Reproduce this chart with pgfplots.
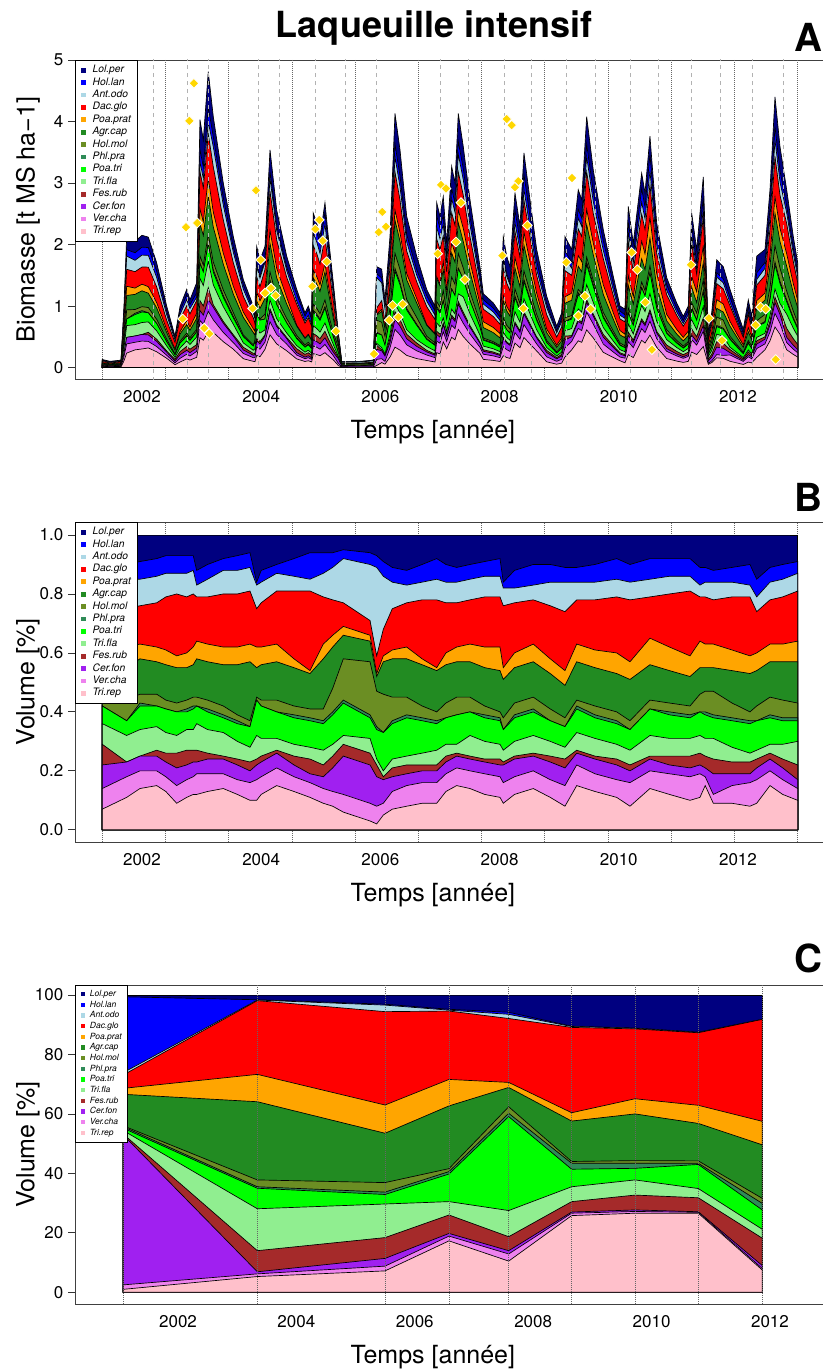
\documentclass[border=0pt]{standalone}
\usepackage{fontspec}
\setmainfont{TeX Gyre Heros}
\usepackage{pgfplots}
\pgfplotsset{compat=1.18}
\usepackage{pgfplotstable}

\definecolor{cLol}{HTML}{000080}
\definecolor{cHol}{HTML}{0000FF}
\definecolor{cAnt}{HTML}{ADD8E6}
\definecolor{cDac}{HTML}{FF0000}
\definecolor{cPoap}{HTML}{FFA500}
\definecolor{cAgr}{HTML}{228B22}
\definecolor{cHolm}{HTML}{6B8E23}
\definecolor{cPhl}{HTML}{2E8B57}
\definecolor{cPoat}{HTML}{00FF00}
\definecolor{cTrif}{HTML}{90EE90}
\definecolor{cFes}{HTML}{A52A2A}
\definecolor{cCer}{HTML}{A020F0}
\definecolor{cVer}{HTML}{EE82EE}
\definecolor{cTrir}{HTML}{FFC0CB}
\definecolor{gold}{HTML}{FFD700}

% Panel A: total biomass and cumulative shares (%) of species, bottom (Tri.rep) to top
\pgfplotstableread{
yr tot c1 c2 c3 c4 c5 c6 c7 c8 c9 c10 c11 c12 c13
2001.334 0.13 7 14 22 29 36 42 42 46 54 61 75 84 90
2001.463 0.10 7 14 22 29 36 42 42 46 54 61 75 84 90
2001.648 0.12 7 14 22 29 36 42 42 46 54 61 75 84 90
2001.698 1.00 11 18 23 23 32 37 37 44 55 62 75 85 90
2001.743 2.13 11 18 23 23 32 37 37 44 55 62 75 85 90
2001.883 2.05 14 20 25 25 34 42 43 46 58 63 76 85 91
2002.000 2.15 14 20 25 25 34 42 43 46 58 63 76 85 91
2002.106 2.12 15 20 25 27 35 42 42 46 57 62 77 86 92
2002.247 1.70 15 20 25 27 35 42 42 46 57 62 77 86 92
2002.414 1.00 15 20 25 27 35 42 42 46 57 62 77 86 92
2002.554 0.51 9 15 21 26 32 40 40 43 55 59 80 87 93
2002.638 0.99 9 15 21 26 32 40 40 43 55 59 80 87 93
2002.750 1.27 11 17 22 27 34 40 41 44 55 60 79 87 93
2002.805 1.10 11 17 22 27 34 40 41 44 55 60 79 87 93
2002.918 1.38 12 19 23 27 36 42 42 45 58 64 79 83 88
2002.973 4.03 12 19 23 27 36 42 42 45 58 64 79 83 88
2003.029 3.70 12 19 23 27 36 42 42 45 58 64 79 83 88
2003.112 4.81 12 19 23 27 36 42 42 45 58 64 79 83 88
2003.196 4.08 14 19 24 25 33 38 39 42 56 62 80 88 92
2003.364 3.00 14 19 24 25 33 38 39 42 56 62 80 88 92
2003.532 2.13 14 19 24 25 33 38 39 42 56 62 80 88 92
2003.700 1.43 10 16 20 23 28 35 35 37 57 63 81 89 94
2003.867 1.00 10 16 20 23 28 35 35 37 57 63 81 89 94
2003.896 0.95 10 17 22 24 32 44 44 45 55 62 75 83 84
2003.924 1.97 10 17 22 24 32 44 44 45 55 62 75 83 84
2003.980 1.75 10 17 22 24 32 44 44 45 55 62 75 83 84
2004.064 1.97 15 21 26 27 31 40 40 44 57 63 81 87 90
2004.148 3.54 15 21 26 27 31 40 40 44 57 63 81 87 90
2004.260 2.56 15 21 26 27 31 40 40 44 57 63 81 87 90
2004.428 1.81 15 21 26 27 31 40 40 44 57 63 81 87 90
2004.596 1.27 11 16 19 24 28 37 38 41 53 54 81 85 94
2004.735 0.89 11 16 19 24 28 37 38 41 53 54 81 85 94
2004.790 1.00 11 16 19 24 28 37 38 41 53 54 81 85 94
2004.847 0.83 11 16 19 24 28 37 38 41 53 54 81 85 94
2004.874 2.51 9 14 18 22 27 36 37 41 58 63 79 87 94
2004.931 2.35 9 14 18 22 27 36 37 41 58 63 79 87 94
2004.987 2.13 9 14 18 22 27 36 37 41 58 63 79 87 94
2005.070 2.68 9 14 18 22 27 36 37 41 58 63 79 87 94
2005.126 2.13 9 14 18 22 27 36 37 41 58 63 79 87 94
2005.210 1.38 9 14 18 22 27 36 37 41 58 63 79 87 94
2005.294 0.57 6 12 25 29 32 43 44 58 66 69 77 92 95
2005.351 0.10 6 12 25 29 32 43 44 58 66 69 77 92 95
2005.658 0.10 3 9 22 26 31 38 39 57 64 66 71 90 94
2005.881 0.12 3 9 22 26 31 38 39 57 64 66 71 90 94
2005.938 1.64 2 8 18 22 24 34 35 47 52 53 59 89 93
2006.022 1.60 5 9 17 18 20 33 33 46 57 59 68 86 91
2006.077 1.10 5 9 17 18 20 33 33 46 57 59 68 86 91
2006.161 2.13 8 15 19 22 25 38 39 45 58 62 77 83 88
2006.245 4.13 8 15 19 22 25 38 39 45 58 62 77 83 88
2006.329 3.54 8 15 19 22 25 38 39 45 58 62 77 83 88
2006.441 2.46 8 15 19 22 25 38 39 45 58 62 77 83 88
2006.609 1.81 8 15 19 22 25 38 39 45 58 62 77 83 88
2006.777 1.27 9 16 20 22 27 36 37 40 54 55 78 85 92
2006.916 1.00 9 16 20 22 27 36 37 40 54 55 78 85 92
2006.945 2.68 9 16 20 22 27 36 37 40 54 55 78 85 92
2007.000 2.46 9 16 20 22 27 36 37 40 54 55 78 85 92
2007.055 2.78 15 21 25 26 29 39 39 45 57 62 77 84 89
2007.112 2.02 15 21 25 26 29 39 39 45 57 62 77 84 89
2007.196 3.27 15 21 25 26 29 39 39 45 57 62 77 84 89
2007.252 3.00 15 21 25 26 29 39 39 45 57 62 77 84 89
2007.307 4.13 15 21 25 26 29 39 39 45 57 62 77 84 89
2007.391 3.59 14 20 24 25 32 40 40 45 57 63 78 85 90
2007.503 2.73 14 20 24 25 32 40 40 45 57 63 78 85 90
2007.671 1.64 14 20 24 25 32 40 40 45 57 63 78 85 90
2007.727 1.20 11 18 22 24 29 37 38 40 54 62 79 86 92
2007.894 1.05 11 18 22 24 29 37 38 40 54 62 79 86 92
2008.007 0.89 11 18 22 24 29 37 38 40 54 62 79 86 92
2008.062 2.13 9 16 22 23 27 34 34 38 51 55 76 82 84
2008.119 1.81 9 16 22 23 27 34 34 38 51 55 76 82 84
2008.174 1.64 9 16 22 23 27 34 34 38 51 55 76 82 84
2008.258 2.84 14 20 25 26 32 40 41 45 57 63 78 83 90
2008.342 2.30 14 20 25 26 32 40 41 45 57 63 78 83 90
2008.409 3.49 14 20 25 26 32 40 41 45 57 63 78 83 90
2008.510 2.73 14 20 25 26 32 40 41 45 57 63 78 83 90
2008.622 1.92 14 20 25 26 32 40 41 45 57 63 78 83 90
2008.790 1.16 8 15 21 24 28 35 35 38 49 54 74 84 89
2008.958 0.67 8 15 21 24 28 35 35 38 49 54 74 84 89
2009.042 0.89 8 15 21 24 28 35 35 38 49 54 74 84 89
2009.097 2.13 8 15 21 24 28 35 35 38 49 54 74 84 89
2009.210 1.92 15 22 26 27 33 41 42 44 57 63 78 84 89
2009.320 2.89 15 22 26 27 33 41 42 44 57 63 78 84 89
2009.378 2.73 15 22 26 27 33 41 42 44 57 63 78 84 89
2009.461 4.08 15 22 26 27 33 41 42 44 57 63 78 84 89
2009.572 3.21 15 22 26 27 33 41 42 44 57 63 78 84 89
2009.740 2.24 11 17 22 24 29 36 37 40 53 60 79 85 92
2009.908 1.48 11 17 22 24 29 36 37 40 53 60 79 85 92
2010.020 1.00 11 17 22 24 29 36 37 40 53 60 79 85 92
2010.104 0.95 8 16 20 22 27 34 34 37 51 57 78 84 90
2010.159 2.62 8 16 20 22 27 34 34 37 51 57 78 84 90
2010.243 2.02 8 16 20 22 27 34 34 37 51 57 78 84 90
2010.384 3.16 14 20 24 25 32 41 41 44 56 65 79 85 92
2010.440 2.84 14 20 24 25 32 41 41 44 56 65 79 85 92
2010.523 3.76 14 20 24 25 32 41 41 44 56 65 79 85 92
2010.636 2.35 14 20 24 25 32 41 41 44 56 65 79 85 92
2010.804 1.46 10 18 21 25 31 38 39 42 52 59 81 86 92
2010.971 1.05 10 18 21 25 31 38 39 42 52 59 81 86 92
2011.082 0.83 10 18 21 25 31 38 39 42 52 59 81 86 92
2011.166 1.00 10 18 21 25 31 38 39 42 52 59 81 86 92
2011.223 2.51 10 18 21 25 31 38 39 42 52 59 81 86 92
2011.307 1.92 11 19 22 26 32 40 40 46 55 64 79 83 89
2011.418 3.10 11 19 22 26 32 40 40 46 55 64 79 83 89
2011.502 0.57 9 12 19 24 31 38 39 47 55 63 78 84 88
2011.559 0.89 9 12 19 24 31 38 39 47 55 63 78 84 88
2011.643 1.75 9 12 19 24 31 38 39 47 55 63 78 84 88
2011.753 1.64 9 12 19 24 31 38 39 47 55 63 78 84 88
2011.866 1.27 8 16 19 23 26 36 37 40 53 59 79 83 90
2011.978 0.94 8 16 19 23 26 36 37 40 53 59 79 83 90
2012.089 0.62 8 16 19 23 26 36 37 40 53 59 79 83 90
2012.173 1.10 8 16 19 23 26 36 37 40 53 59 79 83 90
2012.230 0.83 9 17 21 24 27 37 37 42 54 60 74 79 85
2012.314 1.81 9 17 21 24 27 37 37 42 54 60 74 79 85
2012.453 1.92 15 20 24 26 29 38 39 45 57 63 78 84 89
2012.537 2.89 15 20 24 26 29 38 39 45 57 63 78 84 89
2012.621 4.40 15 20 24 26 29 38 39 45 57 63 78 84 89
2012.705 3.59 15 20 24 26 29 38 39 45 57 63 78 84 89
2012.817 2.89 10 14 17 22 30 37 38 43 57 64 81 87 91
2012.928 2.13 10 14 17 22 30 37 38 43 57 64 81 87 91
2013.002 1.70 10 14 17 22 30 37 38 43 57 64 81 87 91
}\tabA

% Panel B: cumulative shares (%)
\pgfplotstableread{
yr c1 c2 c3 c4 c5 c6 c7 c8 c9 c10 c11 c12 c13 top
2001.334 7 14 22 29 36 42 42 46 54 61 75 84 90 100
2001.743 11 18 23 23 32 37 37 44 55 62 75 85 90 100
2001.966 14 20 25 25 34 42 43 46 58 63 76 85 91 100
2002.247 15 20 25 27 35 42 42 46 57 62 77 86 92 100
2002.400 13 18 23 26 33 41 41 44 56 61 79 87 93 100
2002.582 9 15 21 26 32 40 40 43 55 59 80 87 93 100
2002.750 11 17 22 27 34 40 41 44 55 60 79 87 93 100
2002.860 12 18 23 27 34 41 42 45 56 62 80 88 93 100
2002.918 12 19 23 27 36 42 42 45 58 64 79 83 88 100
2003.100 13 19 24 26 34 40 41 44 57 63 79 85 90 100
2003.364 14 19 24 25 33 38 39 42 56 62 80 88 92 100
2003.600 12 17 22 24 30 36 37 39 56 62 80 88 93 100
2003.812 10 16 20 23 28 35 35 37 57 63 81 89 94 100
2003.924 10 17 22 24 32 44 44 45 55 62 75 83 84 100
2004.000 12 18 23 25 31 42 42 44 56 62 77 84 88 100
2004.260 15 21 26 27 31 40 40 44 57 63 81 87 90 100
2004.550 13 18 22 25 29 38 39 42 55 58 81 86 92 100
2004.819 11 16 19 24 28 37 38 41 53 54 81 85 94 100
2005.042 9 14 18 22 27 36 37 41 58 63 79 87 94 100
2005.200 8 13 21 25 29 39 40 48 62 66 78 89 94 100
2005.378 6 12 25 29 32 43 44 58 66 69 77 92 95 100
2005.826 3 9 22 26 31 38 39 57 64 66 71 90 94 100
2005.938 2 8 18 22 24 34 35 47 52 53 59 89 93 100
2006.049 5 9 17 18 20 33 33 46 57 59 68 86 91 100
2006.200 7 13 18 21 24 36 37 45 58 61 75 84 89 100
2006.441 8 15 19 22 25 38 39 45 58 62 77 83 88 100
2006.700 9 16 20 22 26 37 38 42 56 58 78 84 90 100
2006.945 9 16 20 22 27 36 37 40 54 55 78 85 92 100
2007.100 13 19 23 25 29 38 38 43 56 60 77 84 90 100
2007.280 15 21 25 26 29 39 39 45 57 62 77 84 89 100
2007.503 14 20 24 25 32 40 40 45 57 63 78 85 90 100
2007.750 12 19 23 24 30 38 39 42 55 62 79 86 91 100
2008.007 11 18 22 24 29 37 38 40 54 62 79 86 92 100
2008.062 9 16 22 23 27 34 34 38 51 55 76 82 84 100
2008.250 12 18 24 25 30 38 39 43 55 60 77 82 88 100
2008.565 14 20 25 26 32 40 41 45 57 63 78 83 90 100
2008.850 11 17 23 25 30 37 37 41 53 58 76 84 90 100
2009.097 8 15 21 24 28 35 35 38 49 54 74 84 89 100
2009.294 15 22 26 27 33 41 42 44 57 63 78 84 89 100
2009.600 13 19 24 25 31 38 39 42 55 61 78 84 90 100
2009.965 11 17 22 24 29 36 37 40 53 60 79 85 92 100
2010.188 8 16 20 22 27 34 34 37 51 57 78 84 90 100
2010.523 14 20 24 25 32 41 41 44 56 65 79 85 92 100
2010.850 12 19 22 25 31 39 40 43 54 62 80 86 92 100
2011.195 10 18 21 25 31 38 39 42 52 59 81 86 92 100
2011.362 11 19 22 26 32 40 40 46 55 64 79 83 89 100
2011.450 15 18 21 25 31 39 40 47 55 63 79 84 89 100
2011.586 9 12 19 24 31 38 39 47 55 63 78 84 88 100
2011.900 9 15 19 23 28 37 38 43 54 61 79 84 89 100
2012.201 8 16 19 23 26 36 37 40 53 59 79 83 90 100
2012.314 9 17 21 24 27 37 37 42 54 60 74 79 85 100
2012.537 15 20 24 26 29 38 39 45 57 63 78 84 89 100
2012.750 12 17 21 24 29 37 38 44 57 63 79 85 90 100
2013.002 10 14 17 22 30 37 38 43 57 64 81 87 91 100
}\tabB

% Panel C: cumulative shares (%) at the survey dates
\pgfplotstableread{
yr c1 c2 c3 c4 c5 c6 c7 c8 c9 c10 c11 c12 c13 top
2001.076 1.0 2.5 52.9 53.2 54.4 55.2 55.7 56.0 66.6 68.6 73.1 73.9 99.4 100
2003.340 5.3 6.2 6.9 14.0 28.1 35.0 35.5 37.8 64.1 73.3 98.1 98.3 98.4 100
2005.497 7.2 8.8 11.4 18.4 29.7 32.9 33.7 36.9 53.5 63.0 94.4 96.6 96.9 100
2006.578 17.3 18.9 19.8 26.0 30.5 39.8 40.6 41.6 62.7 71.6 94.6 94.9 95.2 100
2007.586 10.5 12.9 14.0 18.7 27.5 59.1 60.2 62.4 68.9 70.6 92.1 93.5 94.2 100
2008.650 25.8 26.6 27.0 30.5 35.5 41.4 43.4 44.0 57.6 60.4 89.1 89.4 89.5 100
2009.720 26.6 27.2 27.7 32.7 37.8 41.7 43.4 44.3 60.0 65.1 88.6 88.8 88.9 100
2010.789 26.6 26.9 27.1 31.8 34.9 43.0 43.4 44.2 56.8 62.9 87.3 87.4 87.5 100
2011.870 7.5 8.0 9.0 18.2 21.2 27.7 29.9 31.6 49.6 57.5 91.8 91.8 91.8 100
}\tabC

\tikzset{stk/.style={fill=#1, draw=black, line width=0.5pt}}

\newcommand{\lblfont}{\fontsize{18.75}{21}\selectfont}

\pgfplotsset{
  panel/.style={
    scale only axis, width=566.25pt, height=239.25pt, anchor=north west,
    axis line style={black!75, line width=0.6pt},
    xtick={2002,2004,2006,2008,2010,2012},
    xtick style={draw=none},
    ytick align=outside,
    ytick style={black!80, line width=0.6pt},
    major tick length=5.25pt,
    tick label style={font=\fontsize{12.75}{14}\selectfont},
    /pgf/number format/assume math mode=true,
    /pgf/number format/1000 sep={},
    xticklabel style={yshift=-4.7pt},
    every axis x label/.style={at={(axis description cs:0.474,0)}, yshift=-39.75pt, anchor=center, font=\lblfont},
    every axis y label/.style={at={(axis description cs:0,0.5)}, xshift=-35.25pt, rotate=90, anchor=center, font=\lblfont},
    legend image code/.code={\path[#1,draw=none] (0pt,-1.8pt) rectangle (3.6pt,1.8pt); \path[draw=none,fill=none] (0pt,0pt) -- (8pt,0pt);},
    legend style={at={(0,1)}, anchor=north west, draw=black, line width=0.5pt, fill=white,
      font=\fontsize{7.7}{9}\selectfont\itshape, cells={anchor=west}, row sep=0.6pt,
      inner xsep=4.5pt, inner ysep=3pt,
      nodes={inner sep=0.5pt, text height=5.8pt, text depth=1.9pt}},
  },
  vlines/.style={forget plot, unbounded coords=jump},
}

\begin{document}
\begin{tikzpicture}
\useasboundingbox (0,0) rectangle (616.5pt,-1026.75pt);

% ---------------- Panel A ----------------
\begin{axis}[panel, at={(56.25pt,-45pt)},
  xmin=2000.876, xmax=2013.544, ymin=-0.187, ymax=5.0,
  ytick={0,1,2,3,4,5},
  xlabel={Temps [année]}, ylabel={Biomasse [t MS ha−1]}]
\addplot[vlines, densely dotted, black!60, line width=0.5pt] coordinates {
(2001.334,-1) (2001.334,6) (2001.334,nan)
(2002.394,-1) (2002.394,6) (2002.394,nan)
(2003.455,-1) (2003.455,6) (2003.455,nan)
(2004.515,-1) (2004.515,6) (2004.515,nan)
(2005.576,-1) (2005.576,6) (2005.576,nan)
(2006.636,-1) (2006.636,6) (2006.636,nan)
(2007.696,-1) (2007.696,6) (2007.696,nan)
(2008.757,-1) (2008.757,6) (2008.757,nan)
(2009.817,-1) (2009.817,6) (2009.817,nan)
(2010.878,-1) (2010.878,6) (2010.878,nan)
(2011.938,-1) (2011.938,6) (2011.938,nan)
(2012.999,-1) (2012.999,6)};
\addplot[stk=cLol]  table[x=yr, y=tot] {\tabA} \closedcycle;
\addplot[stk=cHol]  table[x=yr, y expr=\thisrow{tot}*\thisrow{c13}/100] {\tabA} \closedcycle;
\addplot[stk=cAnt]  table[x=yr, y expr=\thisrow{tot}*\thisrow{c12}/100] {\tabA} \closedcycle;
\addplot[stk=cDac]  table[x=yr, y expr=\thisrow{tot}*\thisrow{c11}/100] {\tabA} \closedcycle;
\addplot[stk=cPoap] table[x=yr, y expr=\thisrow{tot}*\thisrow{c10}/100] {\tabA} \closedcycle;
\addplot[stk=cAgr]  table[x=yr, y expr=\thisrow{tot}*\thisrow{c9}/100] {\tabA} \closedcycle;
\addplot[stk=cHolm] table[x=yr, y expr=\thisrow{tot}*\thisrow{c8}/100] {\tabA} \closedcycle;
\addplot[stk=cPhl]  table[x=yr, y expr=\thisrow{tot}*\thisrow{c7}/100] {\tabA} \closedcycle;
\addplot[stk=cPoat] table[x=yr, y expr=\thisrow{tot}*\thisrow{c6}/100] {\tabA} \closedcycle;
\addplot[stk=cTrif] table[x=yr, y expr=\thisrow{tot}*\thisrow{c5}/100] {\tabA} \closedcycle;
\addplot[stk=cFes]  table[x=yr, y expr=\thisrow{tot}*\thisrow{c4}/100] {\tabA} \closedcycle;
\addplot[stk=cCer]  table[x=yr, y expr=\thisrow{tot}*\thisrow{c3}/100] {\tabA} \closedcycle;
\addplot[stk=cVer]  table[x=yr, y expr=\thisrow{tot}*\thisrow{c2}/100] {\tabA} \closedcycle;
\addplot[stk=cTrir] table[x=yr, y expr=\thisrow{tot}*\thisrow{c1}/100] {\tabA} \closedcycle;
\addplot[vlines, dashed, black!30, line width=0.5pt] coordinates {
(2002.190,-1) (2002.190,6) (2002.190,nan)
(2002.760,-1) (2002.760,6) (2002.760,nan)
(2003.112,-1) (2003.112,6) (2003.112,nan)
(2003.951,-1) (2003.951,6) (2003.951,nan)
(2004.304,-1) (2004.304,6) (2004.304,nan)
(2004.903,-1) (2004.903,6) (2004.903,nan)
(2005.406,-1) (2005.406,6) (2005.406,nan)
(2005.938,-1) (2005.938,6) (2005.938,nan)
(2007.000,-1) (2007.000,6) (2007.000,nan)
(2007.475,-1) (2007.475,6) (2007.475,nan)
(2008.079,-1) (2008.079,6) (2008.079,nan)
(2008.539,-1) (2008.539,6) (2008.539,nan)
(2009.114,-1) (2009.114,6) (2009.114,nan)
(2009.601,-1) (2009.601,6) (2009.601,nan)
(2010.188,-1) (2010.188,6) (2010.188,nan)
(2010.663,-1) (2010.663,6) (2010.663,nan)
(2011.212,-1) (2011.212,6) (2011.212,nan)
(2011.698,-1) (2011.698,6) (2011.698,nan)
(2012.247,-1) (2012.247,6) (2012.247,nan)
(2012.760,-1) (2012.760,6)};
\addplot[forget plot, only marks, mark=square*, mark size=2.6pt,
  mark options={rotate=45, fill=gold, draw=white, line width=0.6pt}] coordinates {
(2002.872,4.62) (2002.794,4.01) (2002.738,2.28) (2002.928,2.35) (2002.683,0.79)
(2003.045,0.64) (2003.129,0.55) (2003.913,2.88) (2003.992,1.75) (2004.064,1.21)
(2004.164,1.29) (2004.243,1.17) (2003.857,0.96) (2004.908,2.25) (2004.975,2.40)
(2005.032,2.06) (2005.099,1.72) (2004.857,1.32) (2005.255,0.59) (2005.893,0.22)
(2006.032,2.53) (2005.971,2.20) (2006.094,2.29) (2006.206,1.01) (2006.374,1.03)
(2006.149,0.77) (2006.300,0.82) (2007.017,2.97) (2007.101,2.91) (2007.352,2.68)
(2007.268,2.04) (2006.961,1.85) (2007.419,1.43) (2008.119,4.04) (2008.203,3.94)
(2008.314,3.03) (2008.258,2.93) (2008.465,2.31) (2008.045,1.82) (2008.398,0.96)
(2009.215,3.08) (2009.119,1.71) (2009.433,1.16) (2009.320,0.84) (2009.528,0.95)
(2010.216,1.87) (2010.310,1.59) (2010.445,1.06) (2010.557,0.29) (2011.211,1.67)
(2011.513,0.80) (2011.732,0.44) (2012.297,0.69) (2012.381,0.98) (2012.465,0.95)
(2012.633,0.13)};
\legend{Lol.per,Hol.lan,Ant.odo,Dac.glo,Poa.prat,Agr.cap,Hol.mol,Phl.pra,Poa.tri,Tri.fla,Fes.rub,Cer.fon,Ver.cha,Tri.rep}
\end{axis}

% ---------------- Panel B ----------------
\begin{axis}[panel, at={(56.25pt,-391.5pt)}, height=240pt,
  xmin=2000.876, xmax=2013.544, ymin=-0.0414, ymax=1.0441,
  ytick={0,0.2,0.4,0.6,0.8,1},
  yticklabel style={/pgf/number format/.cd, fixed, fixed zerofill, precision=1},
  xlabel={Temps [année]}, ylabel={Volume [\%]}]
\addplot[vlines, densely dotted, black!60, line width=0.5pt] coordinates {
(2001.334,-0.1) (2001.334,1.1) (2001.334,nan)
(2002.394,-0.1) (2002.394,1.1) (2002.394,nan)
(2003.455,-0.1) (2003.455,1.1) (2003.455,nan)
(2004.515,-0.1) (2004.515,1.1) (2004.515,nan)
(2005.576,-0.1) (2005.576,1.1) (2005.576,nan)
(2006.636,-0.1) (2006.636,1.1) (2006.636,nan)
(2007.696,-0.1) (2007.696,1.1) (2007.696,nan)
(2008.757,-0.1) (2008.757,1.1) (2008.757,nan)
(2009.817,-0.1) (2009.817,1.1) (2009.817,nan)
(2010.878,-0.1) (2010.878,1.1) (2010.878,nan)
(2011.938,-0.1) (2011.938,1.1) (2011.938,nan)
(2012.999,-0.1) (2012.999,1.1)};
\addplot[stk=cLol]  table[x=yr, y expr=\thisrow{top}/100] {\tabB} \closedcycle;
\addplot[stk=cHol]  table[x=yr, y expr=\thisrow{c13}/100] {\tabB} \closedcycle;
\addplot[stk=cAnt]  table[x=yr, y expr=\thisrow{c12}/100] {\tabB} \closedcycle;
\addplot[stk=cDac]  table[x=yr, y expr=\thisrow{c11}/100] {\tabB} \closedcycle;
\addplot[stk=cPoap] table[x=yr, y expr=\thisrow{c10}/100] {\tabB} \closedcycle;
\addplot[stk=cAgr]  table[x=yr, y expr=\thisrow{c9}/100] {\tabB} \closedcycle;
\addplot[stk=cHolm] table[x=yr, y expr=\thisrow{c8}/100] {\tabB} \closedcycle;
\addplot[stk=cPhl]  table[x=yr, y expr=\thisrow{c7}/100] {\tabB} \closedcycle;
\addplot[stk=cPoat] table[x=yr, y expr=\thisrow{c6}/100] {\tabB} \closedcycle;
\addplot[stk=cTrif] table[x=yr, y expr=\thisrow{c5}/100] {\tabB} \closedcycle;
\addplot[stk=cFes]  table[x=yr, y expr=\thisrow{c4}/100] {\tabB} \closedcycle;
\addplot[stk=cCer]  table[x=yr, y expr=\thisrow{c3}/100] {\tabB} \closedcycle;
\addplot[stk=cVer]  table[x=yr, y expr=\thisrow{c2}/100] {\tabB} \closedcycle;
\addplot[stk=cTrir] table[x=yr, y expr=\thisrow{c1}/100] {\tabB} \closedcycle;
\legend{Lol.per,Hol.lan,Ant.odo,Dac.glo,Poa.prat,Agr.cap,Hol.mol,Phl.pra,Poa.tri,Tri.fla,Fes.rub,Cer.fon,Ver.cha,Tri.rep}
\end{axis}

% ---------------- Panel C ----------------
\begin{axis}[panel, at={(56.25pt,-738.75pt)},
  xmin=2000.260, xmax=2013.014, ymin=-3.94, ymax=103.36,
  ytick={0,20,40,60,80,100},
  xlabel={Temps [année]}, ylabel={Volume [\%]},
  legend image code/.code={\path[#1,draw=none] (0pt,-1.6pt) rectangle (3.2pt,1.6pt); \path[draw=none,fill=none] (0pt,0pt) -- (6.3pt,0pt);},
  legend style={font=\fontsize{6.4}{7.5}\selectfont\itshape, row sep=0.6pt, inner xsep=4.2pt,
    nodes={inner sep=0.4pt, text height=5pt, text depth=1.6pt}}]
\addplot[stk=cLol]  table[x=yr, y=top] {\tabC} \closedcycle;
\addplot[stk=cHol]  table[x=yr, y=c13] {\tabC} \closedcycle;
\addplot[stk=cAnt]  table[x=yr, y=c12] {\tabC} \closedcycle;
\addplot[stk=cDac]  table[x=yr, y=c11] {\tabC} \closedcycle;
\addplot[stk=cPoap] table[x=yr, y=c10] {\tabC} \closedcycle;
\addplot[stk=cAgr]  table[x=yr, y=c9] {\tabC} \closedcycle;
\addplot[stk=cHolm] table[x=yr, y=c8] {\tabC} \closedcycle;
\addplot[stk=cPhl]  table[x=yr, y=c7] {\tabC} \closedcycle;
\addplot[stk=cPoat] table[x=yr, y=c6] {\tabC} \closedcycle;
\addplot[stk=cTrif] table[x=yr, y=c5] {\tabC} \closedcycle;
\addplot[stk=cFes]  table[x=yr, y=c4] {\tabC} \closedcycle;
\addplot[stk=cCer]  table[x=yr, y=c3] {\tabC} \closedcycle;
\addplot[stk=cVer]  table[x=yr, y=c2] {\tabC} \closedcycle;
\addplot[stk=cTrir] table[x=yr, y=c1] {\tabC} \closedcycle;
\addplot[vlines, densely dotted, black!60, line width=0.5pt] coordinates {
(2001.076,-10) (2001.076,110) (2001.076,nan)
(2003.340,-10) (2003.340,110) (2003.340,nan)
(2005.497,-10) (2005.497,110) (2005.497,nan)
(2006.578,-10) (2006.578,110) (2006.578,nan)
(2007.586,-10) (2007.586,110) (2007.586,nan)
(2008.650,-10) (2008.650,110) (2008.650,nan)
(2009.720,-10) (2009.720,110) (2009.720,nan)
(2010.789,-10) (2010.789,110) (2010.789,nan)
(2011.870,-10) (2011.870,110)};
\legend{Lol.per,Hol.lan,Ant.odo,Dac.glo,Poa.prat,Agr.cap,Hol.mol,Phl.pra,Poa.tri,Tri.fla,Fes.rub,Cer.fon,Ver.cha,Tri.rep}
\end{axis}

\node[font=\bfseries\fontsize{27}{30}\selectfont] at (325.5pt,-21pt) {Laqueuille intensif};
\node[font=\bfseries\fontsize{29}{30}\selectfont] at (606pt,-27.75pt) {A};
\node[font=\bfseries\fontsize{29}{30}\selectfont] at (606pt,-372.75pt) {B};
\node[font=\bfseries\fontsize{29}{30}\selectfont] at (606pt,-718.5pt) {C};
\end{tikzpicture}
\end{document}
